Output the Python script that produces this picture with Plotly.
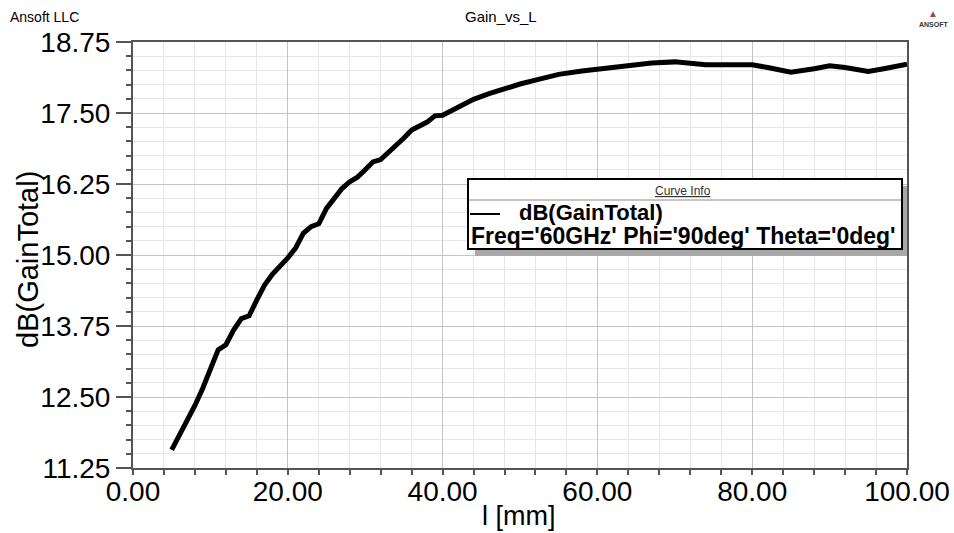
import plotly.graph_objects as go

# ---- data ----
l_mm = [5, 6, 7, 8, 9, 10, 11, 12, 13, 14, 15, 16, 17, 18, 19, 20, 21, 22, 23, 24,
        25, 26, 27, 28, 29, 30, 31, 32, 33, 34, 35, 36, 37, 38, 39, 40, 42, 44, 46, 48,
        50, 52, 55, 58, 60, 62, 64, 67, 70, 72, 74, 77, 80, 82, 85, 88, 90, 92, 95, 97, 100]
gain_db = [11.57, 11.83, 12.07, 12.35, 12.65, 13.00, 13.33, 13.42, 13.68, 13.88, 13.93,
           14.21, 14.47, 14.66, 14.79, 14.95, 15.12, 15.38, 15.50, 15.55, 15.82, 16.00,
           16.17, 16.29, 16.37, 16.50, 16.64, 16.68, 16.80, 16.93, 17.06, 17.20, 17.27,
           17.34, 17.45, 17.46, 17.60, 17.74, 17.84, 17.93, 18.01, 18.08, 18.18, 18.24,
           18.27, 18.31, 18.35, 18.38, 18.40, 18.38, 18.35, 18.35, 18.35, 18.30, 18.22,
           18.28, 18.33, 18.30, 18.23, 18.28, 18.36]
series_name = "dB(GainTotal)"
series_info = "Freq='60GHz' Phi='90deg' Theta='0deg'"
x_title = "l [mm]"
y_title = "dB(GainTotal)"
chart_title = "Gain_vs_L"

W, H = 954, 533
L, R, T, B = 133, 47, 42, 65
PW, PH = W - L - R, H - T - B
FONT = "Liberation Sans, Arial, sans-serif"


def px(x):
    return (x - L) / PW


def py(y):
    return (H - B - y) / PH


fig = go.Figure()
fig.add_trace(go.Scatter(x=l_mm, y=gain_db, mode="lines", name=series_name,
                         line=dict(color="black", width=5), showlegend=False))

axis_common = dict(showline=True, linecolor="#555555", linewidth=2, mirror=True,
                   ticks="outside", tickcolor="#555555", tickwidth=1.5,
                   tickfont=dict(family=FONT, size=28, color="black"),
                   tickformat=".2f", zeroline=False, showgrid=True,
                   gridcolor="#c4c4c4", gridwidth=1)

fig.update_xaxes(range=[0, 100], dtick=20, tick0=0, ticklen=5, ticklabelstandoff=-8,
                 minor=dict(dtick=4, showgrid=True, gridcolor="#e6e6e6",
                            ticks="outside", ticklen=5, tickcolor="#555555"),
                 **axis_common)
fig.update_yaxes(range=[11.25, 18.75], dtick=1.25, tick0=11.25, ticklen=15,
                 minor=dict(dtick=0.25, showgrid=True, gridcolor="#e6e6e6",
                            ticks="outside", ticklen=5, tickcolor="#555555"),
                 **axis_common)

shapes = []
# legend shadow
shapes.append(dict(type="rect", xref="paper", yref="paper",
                   x0=px(475), x1=px(907), y0=py(256), y1=py(186),
                   fillcolor="#a8a8a8", line=dict(width=0)))
# legend box
shapes.append(dict(type="rect", xref="paper", yref="paper",
                   x0=px(468), x1=px(902), y0=py(249), y1=py(179),
                   fillcolor="white", line=dict(color="black", width=2)))
# header separator
shapes.append(dict(type="line", xref="paper", yref="paper",
                   x0=px(469), x1=px(901), y0=py(200), y1=py(200),
                   line=dict(color="#8a8a8a", width=1)))
# line sample
shapes.append(dict(type="line", xref="paper", yref="paper",
                   x0=px(470), x1=px(500), y0=py(214), y1=py(214),
                   line=dict(color="black", width=2)))

ann = []
ann.append(dict(x=px(683), y=py(191), xref="paper", yref="paper", text="<u>Curve Info</u>",
                showarrow=False, font=dict(family=FONT, size=12, color="#333333"),
                xanchor="center", yanchor="middle"))
ann.append(dict(x=px(517), y=py(212), xref="paper", yref="paper", text="<b>" + series_name + "</b>",
                showarrow=False, font=dict(family=FONT, size=22, color="black"),
                xanchor="left", yanchor="middle"))
ann.append(dict(x=px(469), y=py(236), xref="paper", yref="paper", text="<b>" + series_info + "</b>",
                showarrow=False, font=dict(family=FONT, size=23, color="black"),
                xanchor="left", yanchor="middle"))
# axis titles
ann.append(dict(x=px(519), y=py(516), xref="paper", yref="paper", text=x_title,
                showarrow=False, font=dict(family=FONT, size=27, color="black"),
                xanchor="center", yanchor="middle"))
ann.append(dict(x=px(28), y=py(260), xref="paper", yref="paper", text=y_title, textangle=-90,
                showarrow=False, font=dict(family=FONT, size=29, color="black"),
                xanchor="center", yanchor="middle"))
# header texts
ann.append(dict(x=px(501), y=py(17), xref="paper", yref="paper", text=chart_title,
                showarrow=False, font=dict(family=FONT, size=15, color="black"),
                xanchor="center", yanchor="middle"))
ann.append(dict(x=px(8), y=py(17), xref="paper", yref="paper", text="Ansoft LLC",
                showarrow=False, font=dict(family=FONT, size=14, color="black"),
                xanchor="left", yanchor="middle"))
ann.append(dict(x=px(933), y=py(13), xref="paper", yref="paper", text="▲",
                showarrow=False, font=dict(family=FONT, size=10, color="#9a4a4a"),
                xanchor="center", yanchor="middle"))
ann.append(dict(x=px(934), y=py(24), xref="paper", yref="paper", text="<b>ANSOFT</b>",
                showarrow=False, font=dict(family=FONT, size=7, color="#333333"),
                xanchor="center", yanchor="middle"))

fig.update_layout(width=W, height=H, margin=dict(l=L, r=R, t=T, b=B, autoexpand=False),
                  plot_bgcolor="white", paper_bgcolor="white",
                  shapes=shapes, annotations=ann, showlegend=False)

fig.write_html("out.html")
